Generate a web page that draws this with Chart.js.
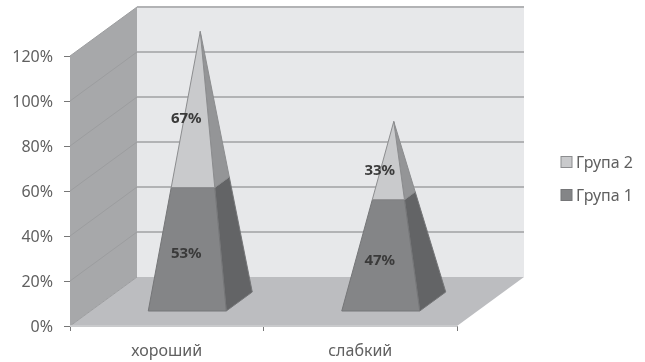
<!DOCTYPE html>
<html>
<head>
<meta charset="utf-8">
<script src="https://cdn.jsdelivr.net/npm/chart.js@4"></script>
<style>
html,body{margin:0;padding:0;background:#fff;}
#wrap{position:relative;width:645px;height:362px;}
canvas{filter:blur(0.7px);}
</style>
</head>
<body>
<div id="wrap"><canvas id="pyramidChart"></canvas></div>
<script>
const categories=["хороший","слабкий"];
const group1=[53,47];
const group2=[67,33];
const yTicks=[0,20,40,60,80,100,120];

// offset of the back wall from the front of the box
const depthX=67,depthY=49;
// half sizes of a pyramid base: width, depth sideways, depth upwards
const halfW=39,halfDX=13,halfDY=9.5;
const fontName="'Noto Sans',sans-serif";

function poly(ctx,pts,fill,stroke){
	ctx.beginPath();
	pts.forEach((p,i)=>i?ctx.lineTo(p[0],p[1]):ctx.moveTo(p[0],p[1]));
	ctx.closePath();
	ctx.fillStyle=fill;
	ctx.fill();
	if(stroke){
		ctx.strokeStyle=stroke;
		ctx.lineWidth=1;
		ctx.stroke();
	}
}

const box3d={
	id:"box3d",
	beforeDatasetsDraw(chart){
		const ctx=chart.ctx,x=chart.scales.x,y=chart.scales.y;
		const l=x.left,r=x.right,b=y.bottom,t=y.top;
		ctx.save();
		// side wall, back wall, floor
		poly(ctx,[[l,t],[l+depthX,t-depthY],[l+depthX,b-depthY],[l,b]],"#a7a8aa");
		poly(ctx,[[l+depthX,t-depthY],[r+depthX,t-depthY],[r+depthX,b-depthY],[l+depthX,b-depthY]],"#e7e8ea");
		poly(ctx,[[l,b],[r,b],[r+depthX,b-depthY],[l+depthX,b-depthY]],"#bcbdc0");
		yTicks.forEach(v=>{
			const py=y.getPixelForValue(v);
			ctx.lineWidth=1;
			ctx.strokeStyle="#9c9d9f";
			ctx.beginPath();
			ctx.moveTo(l,py);
			ctx.lineTo(l+depthX,py-depthY);
			ctx.stroke();
			if(v==0) return;
			ctx.lineWidth=2;
			ctx.strokeStyle="#b2b3b5";
			ctx.beginPath();
			ctx.moveTo(l+depthX,py-depthY);
			ctx.lineTo(r+depthX,py-depthY);
			ctx.stroke();
		});
		ctx.lineWidth=2;
		ctx.strokeStyle="#c9cacc";
		ctx.beginPath();
		ctx.moveTo(l,b);
		ctx.lineTo(r,b);
		ctx.stroke();
		ctx.restore();
	},
	// the flat bars are replaced by the pyramids below
	beforeDatasetDraw(){
		return false;
	},
	afterDatasetsDraw(chart){
		const ctx=chart.ctx,x=chart.scales.x,y=chart.scales.y;
		const sets=chart.data.datasets;
		ctx.save();
		categories.forEach((c,i)=>{
			const total=sets.reduce((s,d)=>s+d.data[i],0);
			const cx=x.getPixelForValue(i)+depthX/2;
			// point on the pyramid at height v, side u and depth w (both -1..1)
			const pt=(v,u,w)=>{
				const s=1-v/total;
				return [cx+(u*halfW+w*halfDX)*s,y.getPixelForValue(v)-depthY/2-w*halfDY*s];
			};
			let from=0;
			sets.forEach(d=>{
				const to=from+d.data[i];
				poly(ctx,[pt(from,1,-1),pt(from,1,1),pt(to,1,1),pt(to,1,-1)],d.sideColor,d.edgeColor);
				poly(ctx,[pt(from,-1,-1),pt(from,1,-1),pt(to,1,-1),pt(to,-1,-1)],d.backgroundColor,d.edgeColor);
				from=to;
			});
			from=0;
			sets.forEach(d=>{
				const mid=from+d.data[i]/2;
				ctx.font="bold 15px "+fontName;
				ctx.fillStyle="#3a3a3a";
				ctx.textAlign="center";
				ctx.textBaseline="middle";
				ctx.fillText(d.data[i]+"%",x.getPixelForValue(i)+19.5,y.getPixelForValue(mid)-12.5);
				from+=d.data[i];
			});
		});
		// legend, top entry is the upper part of the stack
		const items=sets.slice().reverse();
		items.forEach((d,i)=>{
			const ly=162+i*33;
			ctx.fillStyle=d.backgroundColor;
			ctx.strokeStyle=d.edgeColor;
			ctx.lineWidth=1;
			ctx.fillRect(561,ly-5.5,11,11);
			ctx.strokeRect(561,ly-5.5,11,11);
			ctx.font="16px "+fontName;
			ctx.fillStyle="#606060";
			ctx.textAlign="left";
			ctx.textBaseline="middle";
			ctx.fillText(d.label,576,ly+1);
		});
		ctx.restore();
	}
};

new Chart(document.getElementById("pyramidChart"),{
	type:"bar",
	data:{
		labels:categories,
		datasets:[
			{label:"Група 1",data:group1,backgroundColor:"#848587",sideColor:"#636466",edgeColor:"#757678"},
			{label:"Група 2",data:group2,backgroundColor:"#c9cacc",sideColor:"#949597",edgeColor:"#8c8d8f"}
		]
	},
	options:{
		responsive:true,
		maintainAspectRatio:false,
		animation:false,
		layout:{padding:{left:0,top:56,right:188,bottom:0}},
		plugins:{legend:{display:false},tooltip:{enabled:false}},
		scales:{
			x:{
				stacked:true,
				afterFit(scale){scale.height=36;},
				border:{color:"#a0a0a0"},
				grid:{drawOnChartArea:false,tickLength:5,color:"#777"},
				ticks:{padding:11,color:"#606060",font:{family:fontName,size:16}}
			},
			y:{
				stacked:true,
				min:0,
				max:120,
				afterFit(scale){scale.width=70;},
				afterBuildTicks(scale){scale.ticks=yTicks.map(v=>({value:v}));},
				border:{color:"#8a8a8a"},
				grid:{drawOnChartArea:false,tickLength:6,color:"#777"},
				ticks:{padding:11,labelOffset:1.5,color:"#606060",font:{family:fontName,size:16},callback:v=>v+"%"}
			}
		}
	},
	plugins:[box3d]
});
</script>
</body>
</html>
